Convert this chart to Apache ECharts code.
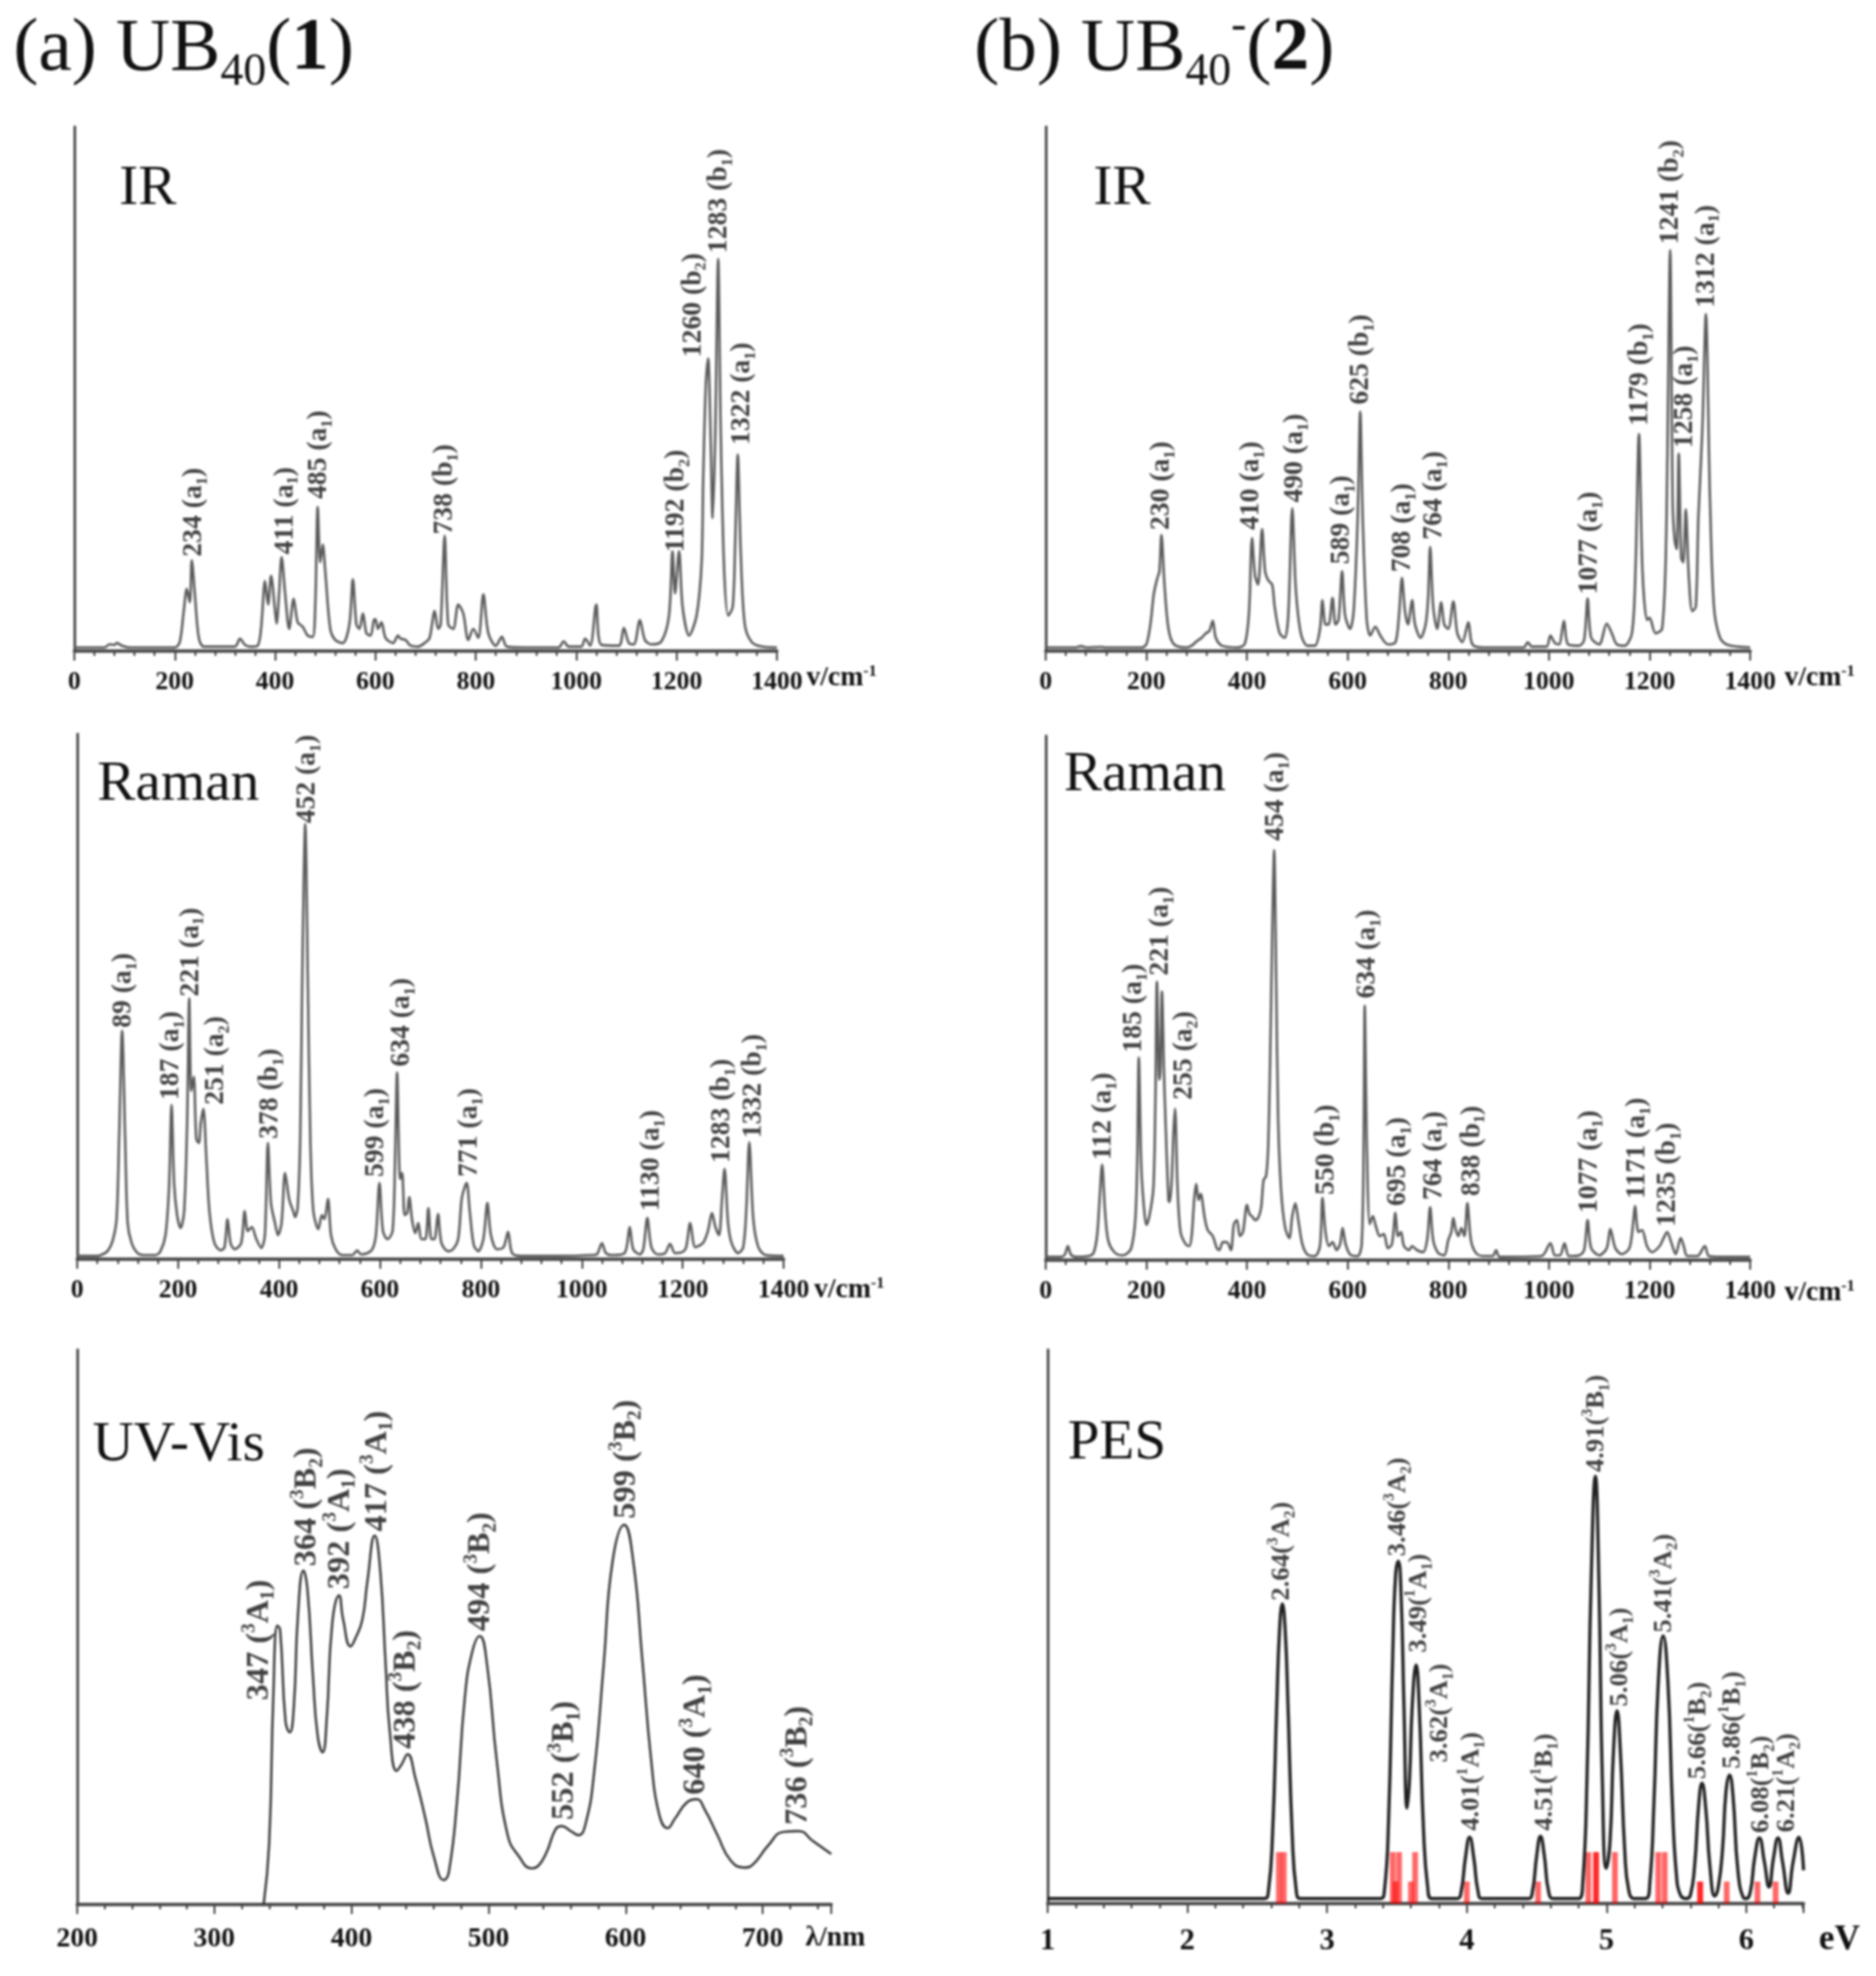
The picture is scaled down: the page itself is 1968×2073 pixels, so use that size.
<!DOCTYPE html>
<html><head><meta charset="utf-8">
<style>html,body{margin:0;padding:0;background:#fff}#c{width:1968px;height:2073px;filter:blur(0.8px)}</style>
<script src="https://cdn.jsdelivr.net/npm/echarts@6/dist/echarts.min.js"></script>
</head><body><div id="c"></div>
<script>
const irACurve=[[0,8],[60,8],[70,15],[80,14],[85,18],[95,12],[110,8],[200,8],[210,20],[218,90],[224,140],[230,110],[234,205],[240,130],[248,30],[258,10],[320,10],[330,28],[340,14],[350,10],[365,12],[372,50],[380,158],[386,105],[392,170],[400,90],[403,62],[408,130],[413,212],[420,130],[428,50],[437,118],[445,65],[455,55],[465,35],[475,32],[480,100],[485,325],[490,200],[495,240],[500,180],[510,50],[520,25],[535,18],[548,60],[555,162],[562,60],[568,50],[575,85],[582,40],[590,35],[597,70],[600,72],[605,50],[612,65],[620,30],[635,18],[645,35],[650,28],[660,25],[670,12],[685,10],[700,20],[708,30],[718,90],[725,50],[730,60],[738,260],[745,60],[755,50],[765,105],[775,85],[785,25],[795,50],[805,30],[815,128],[825,40],[840,12],[852,32],[862,10],[900,8],[965,8],[975,22],[985,10],[1010,10],[1018,28],[1028,12],[1040,105],[1050,14],[1085,12],[1095,52],[1105,18],[1115,15],[1127,70],[1137,25],[1150,15],[1170,22],[1185,80],[1192,225],[1197,130],[1205,225],[1212,100],[1225,35],[1240,80],[1250,200],[1253,380],[1258,590],[1263,660],[1268,480],[1272,300],[1277,480],[1283,885],[1288,500],[1295,180],[1303,80],[1312,100],[1317,250],[1322,443],[1328,220],[1336,60],[1350,20],[1370,10],[1400,8]];
const irBCurve=[[0,8],[60,8],[70,11],[80,8],[110,9],[120,8],[190,8],[200,15],[208,60],[215,130],[222,165],[226,180],[230,262],[236,150],[244,50],[255,15],[280,8],[290,12],[300,22],[310,30],[318,40],[325,45],[332,68],[338,30],[350,12],[380,8],[395,15],[402,60],[405,110],[410,255],[416,170],[422,150],[430,275],[436,180],[442,160],[450,150],[455,100],[465,40],[475,30],[482,80],[490,322],[497,140],[507,40],[520,12],[535,12],[545,50],[550,115],[556,60],[562,60],[570,120],[576,60],[582,70],[589,180],[595,80],[605,50],[612,90],[620,300],[625,540],[630,300],[638,70],[645,35],[655,55],[665,35],[680,15],[695,20],[702,80],[708,165],[714,90],[720,60],[728,115],[734,60],[745,30],[755,60],[760,120],[764,235],[770,100],[778,50],[786,110],[792,60],[800,50],[810,112],[818,40],[828,20],[840,65],[848,15],[870,8],[950,8],[958,20],[966,10],[995,10],[1003,35],[1012,18],[1020,15],[1030,68],[1038,15],[1060,12],[1070,25],[1077,118],[1084,30],[1100,15],[1115,62],[1125,40],[1135,15],[1150,12],[1165,40],[1172,180],[1179,490],[1186,180],[1195,70],[1200,75],[1212,40],[1225,50],[1233,250],[1241,905],[1246,330],[1250,250],[1254,230],[1258,445],[1263,210],[1267,200],[1272,320],[1278,170],[1285,90],[1292,100],[1297,300],[1305,500],[1312,760],[1320,350],[1328,100],[1340,30],[1355,14],[1400,8]];
const ramanACurve=[[0,8],[40,8],[50,12],[60,20],[70,45],[78,100],[83,300],[89,570],[95,300],[100,90],[108,40],[120,15],[135,10],[155,10],[165,20],[175,60],[182,180],[187,385],[192,190],[198,110],[205,78],[212,120],[218,350],[222,650],[226,420],[231,455],[236,300],[241,290],[245,340],[250,375],[256,250],[262,120],[272,40],[285,22],[292,30],[298,100],[304,40],[312,25],[325,40],[332,120],[338,70],[346,80],[355,50],[365,28],[372,60],[378,290],[384,140],[392,90],[398,60],[405,90],[412,215],[420,150],[428,120],[432,105],[437,130],[442,300],[446,700],[452,1085],[457,700],[462,300],[468,120],[478,75],[485,110],[490,100],[497,150],[503,60],[512,25],[525,10],[545,10],[555,22],[562,12],[575,15],[585,25],[592,60],[599,190],[606,70],[615,50],[625,70],[630,250],[634,465],[640,200],[644,215],[649,110],[654,115],[658,155],[664,95],[670,65],[676,90],[682,50],[690,50],[696,127],[702,50],[708,50],[715,113],[722,40],[735,20],[745,25],[755,50],[762,150],[768,180],[772,190],[778,120],[786,35],[795,20],[805,50],[813,140],[820,60],[832,25],[845,30],[854,68],[862,15],[880,8],[960,8],[1020,10],[1030,12],[1040,40],[1048,15],[1060,10],[1085,15],[1095,80],[1102,25],[1115,12],[1122,25],[1130,103],[1138,30],[1150,12],[1165,15],[1175,38],[1185,15],[1200,18],[1207,30],[1215,90],[1225,30],[1240,40],[1250,70],[1258,115],[1265,80],[1272,60],[1278,150],[1283,225],[1290,90],[1297,40],[1310,15],[1320,30],[1326,120],[1332,292],[1340,100],[1350,30],[1365,10],[1400,8]];
const ramanBCurve=[[0,8],[30,8],[38,14],[44,35],[50,14],[60,8],[85,10],[95,18],[102,60],[107,150],[112,238],[118,120],[124,50],[135,22],[150,12],[160,15],[170,30],[178,100],[182,250],[185,505],[190,230],[196,120],[200,88],[206,110],[214,180],[218,400],[221,695],[226,450],[228,480],[231,670],[235,470],[238,350],[244,150],[246,145],[250,190],[254,320],[257,378],[262,180],[268,70],[278,40],[285,35],[290,60],[295,150],[299,190],[304,150],[308,165],[316,105],[322,75],[332,60],[340,30],[345,25],[352,45],[360,45],[368,25],[374,90],[380,100],[386,60],[392,70],[400,138],[405,115],[411,108],[416,100],[422,105],[428,130],[433,200],[438,210],[442,280],[446,500],[450,800],[454,1023],[458,700],[462,350],[468,170],[476,80],[484,55],[490,110],[496,142],[502,100],[510,40],[520,14],[535,10],[545,35],[550,155],[556,70],[563,35],[570,45],[578,25],[585,40],[590,80],[596,40],[605,14],[620,10],[628,40],[632,300],[634,635],[638,300],[644,90],[650,110],[656,85],[664,60],[672,65],[680,30],[688,40],[695,118],[700,60],[706,70],[712,35],[722,25],[728,35],[738,25],[750,20],[758,50],[764,132],[770,50],[780,18],[792,12],[800,50],[806,70],[810,105],[815,75],[820,60],[826,80],[832,60],[838,142],[845,50],[855,18],[870,10],[888,10],[895,25],[902,8],[985,10],[1003,42],[1012,12],[1022,12],[1031,42],[1040,10],[1060,12],[1070,25],[1077,100],[1084,30],[1100,12],[1115,30],[1122,78],[1132,30],[1145,15],[1160,30],[1168,100],[1171,135],[1178,70],[1185,75],[1195,35],[1205,20],[1220,35],[1228,55],[1235,70],[1243,45],[1252,15],[1262,55],[1268,35],[1275,10],[1295,10],[1310,35],[1318,10],[1340,8],[1400,8]];
const uvCurve=[[336,0],[340,147],[343,497],[346,672],[348,662],[352,440],[355,415],[358,477],[361,697],[365,805],[368,757],[372,547],[375.4,407],[379,367],[382,447],[386,677],[391,745],[394,687],[399.4,622],[403,642],[408,687],[411.6,777],[417,889],[421,807],[425,577],[428,417],[433,322],[436.5,337],[441,362],[446.5,307],[454,207],[460,117],[467.5,59],[471,77],[477,247],[482.7,497],[488,607],[493.6,647],[499,577],[506,347],[514,167],[522,117],[531.6,87],[536,92],[542.5,127],[549,182],[553.4,189],[560,177],[565.6,167],[571,197],[577,317],[584,577],[590.5,827],[599,915],[605.6,827],[612,597],[619,337],[624.5,217],[630.6,184],[636,207],[645,247],[651.6,254],[658,227],[667,167],[676.5,107],[686.5,89],[693,97],[704,142],[715,175],[726,177],[737,152],[750,122]];
const pesCurve=[[1,12],[2.55,12],[2.58,30],[2.61,170],[2.64,480],[2.66,660],[2.68,722],[2.70,660],[2.72,480],[2.75,170],[2.78,30],[2.81,12],[3.38,12],[3.41,30],[3.44,200],[3.47,600],[3.49,790],[3.51,825],[3.53,740],[3.55,480],[3.573,230],[3.59,300],[3.61,480],[3.637,575],[3.66,470],[3.69,180],[3.72,40],[3.75,12],[3.93,12],[3.96,30],[3.99,110],[4.02,160],[4.05,110],[4.08,30],[4.11,12],[4.44,12],[4.47,30],[4.50,115],[4.527,162],[4.555,115],[4.585,30],[4.62,12],[4.80,12],[4.83,50],[4.86,300],[4.89,780],[4.92,1030],[4.945,780],[4.97,300],[4.998,85],[5.025,150],[5.05,370],[5.075,465],[5.10,360],[5.13,130],[5.16,30],[5.20,12],[5.28,12],[5.31,50],[5.34,250],[5.37,530],[5.405,645],[5.44,530],[5.47,250],[5.50,70],[5.53,20],[5.57,12],[5.60,20],[5.63,90],[5.66,240],[5.683,290],[5.71,230],[5.74,90],[5.775,18],[5.80,40],[5.83,130],[5.855,270],[5.88,310],[5.905,260],[5.94,80],[5.98,14],[6.0,12],[6.03,30],[6.06,110],[6.094,158],[6.13,100],[6.163,40],[6.195,110],[6.227,158],[6.26,100],[6.30,25],[6.335,100],[6.377,160],[6.41,80]];
const pesSticks=[[2.655,124],[2.69,124],[3.47,124],[3.515,124],[3.49,53],[3.63,124],[3.60,53],[4.0,53],[4.51,53],[4.87,124],[4.925,124],[4.925,124],[5.06,124],[5.37,124],[5.416,124],[5.67,53],[5.67,53],[5.86,53],[6.08,53],[6.21,53]];

const irALabels=[["234 (a_1)",238,213],["411 (a_1)",420,218],["485 (a_1)",488,343],["738 (b_1)",738,263],["1192 (b_2)",1200,223],["1260 (b_2)",1233,663],["1283 (b_1)",1286,898],["1322 (a_1)",1331,465]];
const irBLabels=[["230 (a_1)",231,273],["410 (a_1)",409,273],["490 (a_1)",495,335],["589 (a_1)",588,196],["625 (b_1)",627,556],["708 (a_1)",710,178],["764 (a_1)",772,251],["1077 (a_1)",1081,128],["1179 (b_1)",1182,508],["1241 (b_2)",1242,918],["1258 (a_1)",1271,458],["1312 (a_1)",1313,775]];
const ramanALabels=[["89 (a_1)",91,577],["187 (a_1)",187,397],["221 (a_1)",225,655],["251 (a_2)",275,385],["378 (b_1)",382,300],["452 (a_1)",457,1087],["599 (a_1)",593,205],["634 (a_1)",643,480],["771 (a_1)",777,205],["1130 (a_1)",1139,120],["1283 (b_1)",1279,240],["1332 (b_1)",1340,302]];
const ramanBLabels=[["112 (a_1)",115,250],["185 (a_1)",175,518],["221 (a_1)",228,710],["255 (a_2)",275,400],["454 (a_1)",457,1046],["550 (b_1)",558,163],["634 (a_1)",639,653],["695 (a_1)",700,135],["764 (a_1)",772,150],["838 (b_1)",847,160],["1077 (a_1)",1081,118],["1171 (a_1)",1176,153],["1235 (b_1)",1236,83]];
const uvLabels=[["347 (^3A_1)",333,492],["364 (^3B_2)",368,815],["392 (^3A_1)",392,760],["417 (^3A_1)",419,899],["438 (^3B_2)",440,375],["494 (^3B_2)",494.5,659],["552 (^3B_1)",555.6,204],["599 (^3B_2)",600.5,930],["640 (^3A_1)",651.6,264],["736 (^3B_2)",725.7,192]];
const pesLabels=[["2.64(^3A_2)",2.674,730],["3.46(^3A_2)",3.51,837],["3.49(^1A_1)",3.66,605],["3.62(^3A_1)",3.81,340],["4.01(^1A_1)",4.035,175],["4.51(^1B_1)",4.557,175],["4.91(^3B_1)",4.93,1040],["5.06(^3A_1)",5.10,475],["5.41(^3A_2)",5.414,653],["5.66(^1B_2)",5.66,300],["5.86(^1B_1)",5.906,325],["6.08(^1B_2)",6.107,170],["6.21(^1A_2)",6.29,172]];

const FONT='"Liberation Serif","Times New Roman",serif';
const INK='#111';
function rich(t){return t.replace(/([^_^]*)(?:([_^])(.))?/g,(m,a,k,c)=>(a?'{n|'+a+'}':'')+(k?(k==='_'?'{s|':'{u|')+c+'}':''));}
function richStyles(fs){return {n:{fontFamily:FONT,fontWeight:'bold',fontSize:fs,color:INK,lineHeight:fs+6},
 s:{fontFamily:FONT,fontWeight:'bold',fontSize:Math.round(fs*0.58),color:INK,verticalAlign:'bottom',lineHeight:fs+6},
 u:{fontFamily:FONT,fontWeight:'bold',fontSize:Math.round(fs*0.58),color:INK,verticalAlign:'top',lineHeight:fs+6}};}

const panels=[
 {curve:irACurve,labels:irALabels,left:78,right:815,top:133,bottom:683,xMin:0,xMax:1400,xInt:200,yMax:1183,line:'#5c5c5c',lw:2.6,sm:0.3,lfs:29,tfs:27,tMargin:20},
 {curve:irBCurve,labels:irBLabels,left:1097,right:1836,top:133,bottom:683,xMin:0,xMax:1400,xInt:200,yMax:1183,line:'#5c5c5c',lw:2.6,sm:0.3,lfs:29,tfs:27,tMargin:20},
 {curve:ramanACurve,labels:ramanALabels,left:81,right:822,top:770,bottom:1321,xMin:0,xMax:1400,xInt:200,yMax:1310,line:'#5c5c5c',lw:2.6,sm:0.3,lfs:29,tfs:27,tMargin:20},
 {curve:ramanBCurve,labels:ramanBLabels,left:1097,right:1836,top:772,bottom:1322,xMin:0,xMax:1400,xInt:200,yMax:1308,line:'#5c5c5c',lw:2.6,sm:0.3,lfs:29,tfs:27,tMargin:20},
 {curve:uvCurve,labels:uvLabels,left:81,right:872,top:1416,bottom:1998,xMin:200,xMax:750,xInt:100,yMax:1337,line:'#333',lw:2.4,sm:0.5,lfs:34,tfs:29,tMargin:22},
 {curve:pesCurve,labels:pesLabels,left:1099,right:1892,top:1416,bottom:1997,xMin:1,xMax:6.41,xInt:1,yMax:1335,line:'#222',lw:3.4,sm:0.5,lfs:28,tfs:32,tMargin:24,sticks:pesSticks}
];
const texts=[
 {t:'{h|(a) UB}{hs|40}{h|(}{hb|1}{h|)}',x:14,y:52},
 {t:'{h|(b) UB}{hs|40}{hu|-}{h|(}{hb|2}{h|)}',x:1022,y:52},
 {t:'{p|IR}',x:125,y:198},{t:'{p|IR}',x:1147,y:198},
 {t:'{p|Raman}',x:102,y:823},{t:'{p|Raman}',x:1116,y:813},
 {t:'{p|UV-Vis}',x:97,y:1516},{t:'{p|PES}',x:1120,y:1514},
 {t:'{a|v/cm}{au|-1}',x:846,y:712},{t:'{a|v/cm}{au|-1}',x:1872,y:712},
 {t:'{a|v/cm}{au|-1}',x:854,y:1354},{t:'{a|v/cm}{au|-1}',x:1872,y:1357},
 {t:'{a|λ/nm}',x:845,y:2034},{t:'{e|eV}',x:1908,y:2035}
];
const textRich={
 h:{fontFamily:FONT,fontSize:79,fontWeight:'normal',color:'#111',lineHeight:96},
 hb:{fontFamily:FONT,fontSize:79,fontWeight:'bold',color:'#111',lineHeight:96},
 hs:{fontFamily:FONT,fontSize:48,fontWeight:'normal',color:'#111',verticalAlign:'bottom',lineHeight:96},
 hu:{fontFamily:FONT,fontSize:48,fontWeight:'normal',color:'#111',verticalAlign:'top',lineHeight:96},
 p:{fontFamily:FONT,fontSize:60,fontWeight:'normal',color:'#111',lineHeight:70},
 a:{fontFamily:FONT,fontSize:29,fontWeight:'bold',color:INK,lineHeight:32},
 au:{fontFamily:FONT,fontSize:17,fontWeight:'bold',color:INK,verticalAlign:'top',lineHeight:32},
 e:{fontFamily:FONT,fontSize:37,fontWeight:'bold',color:INK,lineHeight:42}
};
const grid=[],xAxis=[],yAxis=[],series=[];
panels.forEach((p,i)=>{
 grid.push({left:p.left,top:p.top,width:p.right-p.left,height:p.bottom-p.top,containLabel:false});
 xAxis.push({type:'value',gridIndex:i,min:p.xMin,max:p.xMax,interval:p.xInt,
  axisLine:{show:true,onZero:false,lineStyle:{color:'#444',width:3.5}},
  axisTick:{show:true,length:10,inside:false,lineStyle:{color:'#444',width:2}},
  minorTick:{show:true,splitNumber:5,length:5,lineStyle:{color:'#444',width:2}},
  splitLine:{show:false},minorSplitLine:{show:false},
  axisLabel:{show:true,margin:p.tMargin,showMaxLabel:p.xMax===1400,formatter:v=>String(v),fontFamily:FONT,fontWeight:'bold',fontSize:p.tfs,color:INK,hideOverlap:false}});
 yAxis.push({type:'value',gridIndex:i,min:0,max:p.yMax,
  axisLine:{show:true,onZero:false,lineStyle:{color:'#555',width:3}},
  axisTick:{show:false},axisLabel:{show:false},splitLine:{show:false}});
 if(p.sticks)series.push({type:'bar',xAxisIndex:i,yAxisIndex:i,data:p.sticks,barWidth:6,silent:true,itemStyle:{color:'rgba(255,0,0,0.6)'}});
 series.push({type:'line',xAxisIndex:i,yAxisIndex:i,data:p.curve,symbol:'none',smooth:p.sm,silent:true,clip:false,lineStyle:{color:p.line,width:p.lw}});
 series.push({type:'scatter',xAxisIndex:i,yAxisIndex:i,symbolSize:0,silent:true,clip:false,
  data:p.labels.map(l=>({value:[l[1],l[2]],text:l[0]})),
  label:{show:true,position:'inside',rotate:90,align:'left',verticalAlign:'middle',distance:0,
   formatter:o=>rich(o.data.text),rich:richStyles(p.lfs)},labelLayout:{hideOverlap:false}});
});
const chart=echarts.init(document.getElementById('c'),null,{renderer:'canvas',width:1968,height:2073});
chart.setOption({animation:false,backgroundColor:'#fff',grid,xAxis,yAxis,series,
 title:texts.map(t=>{const lh=t.t.includes('{h|')?96:t.t.includes('{p|')?70:t.t.includes('{e|')?42:32;
  return {text:t.t,left:t.x,top:t.y-lh/2,padding:0,itemGap:0,textStyle:{rich:textRich,fontFamily:FONT,fontWeight:'normal',lineHeight:lh}};})
});
</script></body></html>
